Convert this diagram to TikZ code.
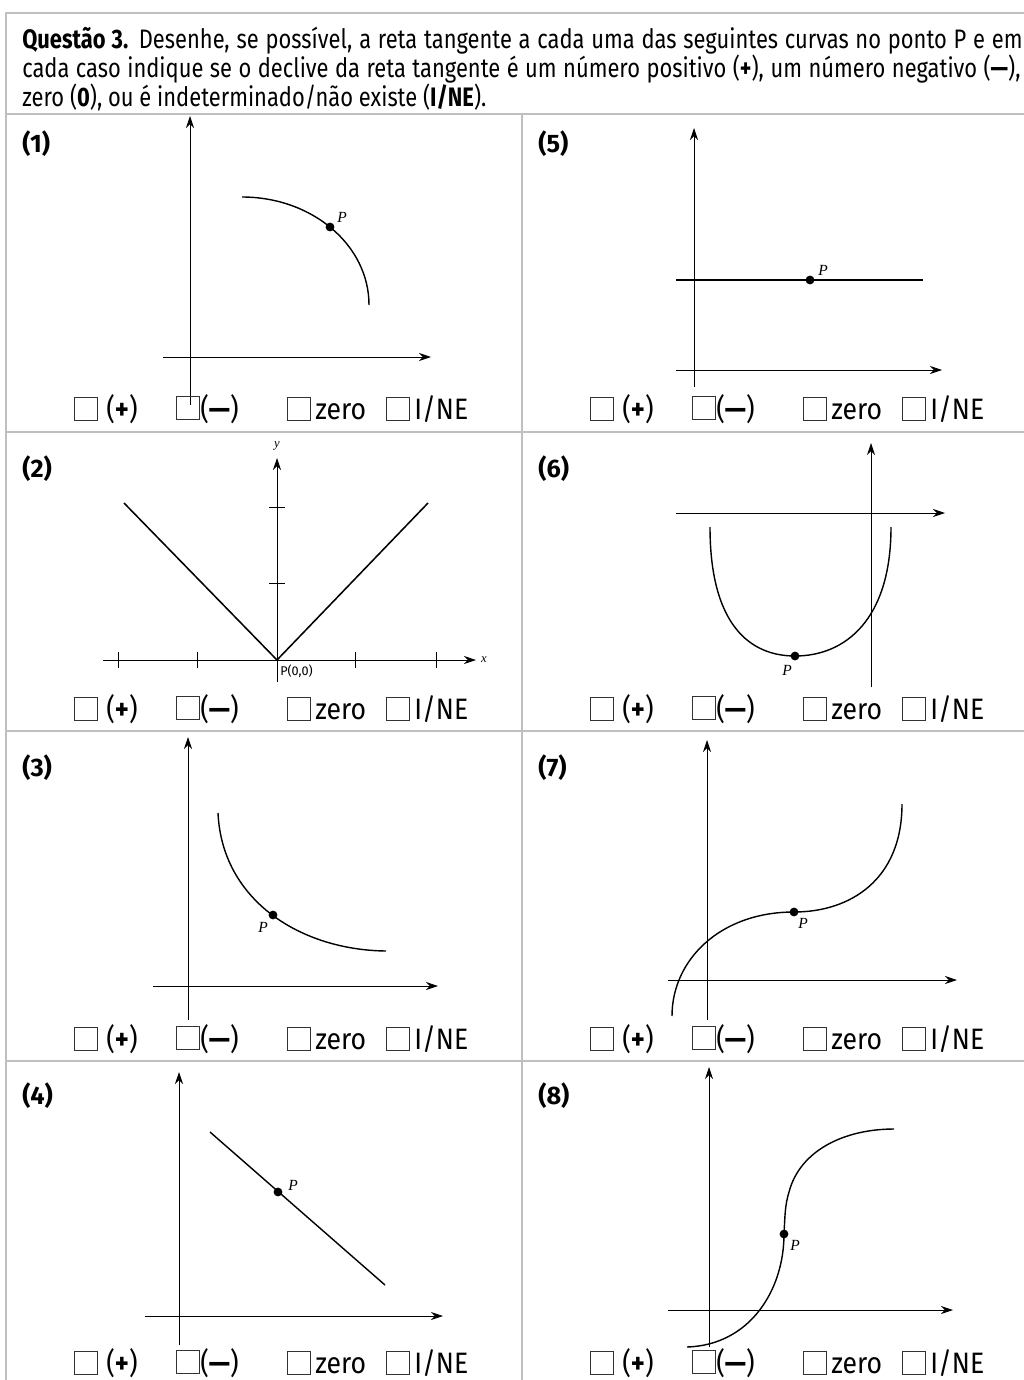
\documentclass[tikz,border=0pt]{standalone}
\usepackage{fontspec}
\newfontfamily\franklin{Fira Sans}[FakeStretch=0.82]
\newfontfamily\boxfont{Fira Sans}[FakeStretch=0.9]
\newfontfamily\fira{Fira Sans}
\newfontfamily\timesfam{Liberation Serif}
\usetikzlibrary{arrows.meta}

\begin{document}
\begin{tikzpicture}[x=0.025cm,y=-0.025cm, every node/.style={inner sep=0pt},
 sep/.style={draw=black!25,line width=1.5pt},
 axis/.style={-{Stealth[length=3mm,width=2mm]},line width=0.6pt},
 curve/.style={line width=1pt},
 pdot/.style={circle,fill,minimum size=2.2mm},
 plabel/.style={font=\timesfam\itshape\fontsize{11pt}{11pt}\selectfont,anchor=base west},
 num/.style={font=\fira\bfseries\fontsize{18pt}{18pt}\selectfont,anchor=base west},
 hdr/.style={font=\franklin\fontsize{19pt}{22pt}\selectfont,anchor=base west},
 cbox/.style={draw=black!80,line width=0.5pt,minimum size=5.6mm},
 cbtxt/.style={font=\boxfont\fontsize{21pt}{21pt}\selectfont,anchor=base west}]
\useasboundingbox (0,0) rectangle (1024,1380);
% table lines
\draw[sep] (6,1380) -- (6,13) -- (1024,13);
\draw[sep] (6,114) -- (1024,114); \draw[sep] (6,432) -- (1024,432);
\draw[sep] (6,731) -- (1024,731); \draw[sep] (6,1061) -- (1024,1061);
\draw[sep] (522,114) -- (522,1380);
% header
\node[hdr] (l1) at (22,49) {\makebox[25cm][s]{\textbf{Questão 3.} Desenhe, se possível, a reta tangente a cada uma das seguintes curvas no ponto P e em}};
\node[hdr] (l2) at (22,78) {\makebox[24.95cm][s]{cada caso indique se o declive da reta tangente é um número positivo (\textbf{+}), um número negativo (\textbf{—}),}};
\node[hdr] (l3) at (22,107) {zero (\textbf{0}), ou é indeterminado/não existe (\textbf{I/NE}).};
% panel numbers
\node[num] (n1) at (22,152) {(1)}; \node[num] (n5) at (538,152) {(5)};
\node[num] (n2) at (22,477) {(2)}; \node[num] (n6) at (538,477) {(6)};
\node[num] (n3) at (22,776) {(3)}; \node[num] (n7) at (538,776) {(7)};
\node[num] (n4) at (22,1104) {(4)}; \node[num] (n8) at (538,1104) {(8)};
% (1)
\draw[axis] (163,357) -- (431,357); \draw[axis] (190,405) -- (190,116);
\draw[curve] (242,197) .. controls (312,197) and (369,245) .. (369,305);
\node[pdot] (p1) at (330,227) {}; \node[plabel] (q1) at (337,222) {P};
% (5)
\draw[axis] (676,370) -- (942,370); \draw[axis] (694,387) -- (694,128);
\draw[curve] (676,280) -- (923,280);
\node[pdot] (p5) at (810,280) {}; \node[plabel] (q5) at (818,275) {P};
% (2)
\draw[axis] (103,660) -- (476,660); \draw[axis] (277,682) -- (277,458);
\foreach \tx in {118,197,355,436} \draw[line width=0.5pt] (\tx,652) -- (\tx,668);
\foreach \ty in {507,583} \draw[line width=0.5pt] (269,\ty) -- (285,\ty);
\draw[line width=1.1pt] (124,503) -- (277,660) -- (428,503);
\node[font=\timesfam\itshape\fontsize{9pt}{9pt}\selectfont] (ya) at (277,446) {y};
\node[font=\timesfam\itshape\fontsize{9pt}{9pt}\selectfont] (xa) at (484,660) {x};
\node[font=\fira\fontsize{9pt}{9pt}\selectfont,anchor=north west] (p2) at (280,665) {P(0,0)};
% (6)
\draw[axis] (676,513) -- (945,513); \draw[axis] (871,687) -- (871,443);
\draw[curve] (710,527) .. controls (710,625) and (750,656) .. (795,656) .. controls (845,656) and (891,620) .. (891,527);
\node[pdot] (p6) at (795,656) {}; \node[plabel] (q6) at (782,675) {P};
% (3)
\draw[axis] (153,986) -- (438,986); \draw[axis] (188,1020) -- (188,737);
\draw[curve] (218,813) .. controls (222,900) and (300,950) .. (386,951);
\node[pdot] (p3) at (273,915) {}; \node[plabel] (q3) at (258,932) {P};
% (7)
\draw[axis] (668,980) -- (957,980); \draw[axis] (707,1020) -- (707,740);
\draw[curve] (672,1016) .. controls (672,960) and (720,912) .. (794,912) .. controls (850,912) and (902,880) .. (902,804);
\node[pdot] (p7) at (794,912) {}; \node[plabel] (q7) at (798,928) {P};
% (4)
\draw[axis] (145,1316) -- (443,1316); \draw[axis] (179,1345) -- (179,1072);
\draw[curve] (210,1132) -- (385,1285);
\node[pdot] (p4) at (278,1192) {}; \node[plabel] (q4) at (288,1190) {P};
% (8)
\draw[axis] (668,1310) -- (953,1310); \draw[axis] (709,1347) -- (709,1067);
\draw[curve] (687,1347) .. controls (750,1345) and (784,1290) .. (784,1234) .. controls (785,1215) and (785,1205) .. (789,1192) .. controls (800,1150) and (845,1129) .. (894,1129);
\node[pdot] (p8) at (784,1234) {}; \node[plabel] (q8) at (790,1250) {P};
% check boxes
\foreach \yy [count=\r] in {409,709,1039,1363}
 \foreach \xx/\c in {0/a,516/b} {
  \node[cbox] (c1\c\r) at (86+\xx,\yy) {}; \node[cbtxt] (t1\c\r) at (106+\xx,\yy+10) {(\textbf{+})};
  \node[cbox] (c2\c\r) at (188+\xx,\yy-1) {}; \node[cbtxt] (t2\c\r) at (200+\xx,\yy+10) {(\textbf{—})};
  \node[cbox] (c3\c\r) at (299+\xx,\yy) {}; \node[cbtxt] (t3\c\r) at (315+\xx,\yy+10) {zero};
  \node[cbox] (c4\c\r) at (398+\xx,\yy) {}; \node[cbtxt] (t4\c\r) at (414+\xx,\yy+10) {I/NE};
 }
\end{tikzpicture}
\end{document}
